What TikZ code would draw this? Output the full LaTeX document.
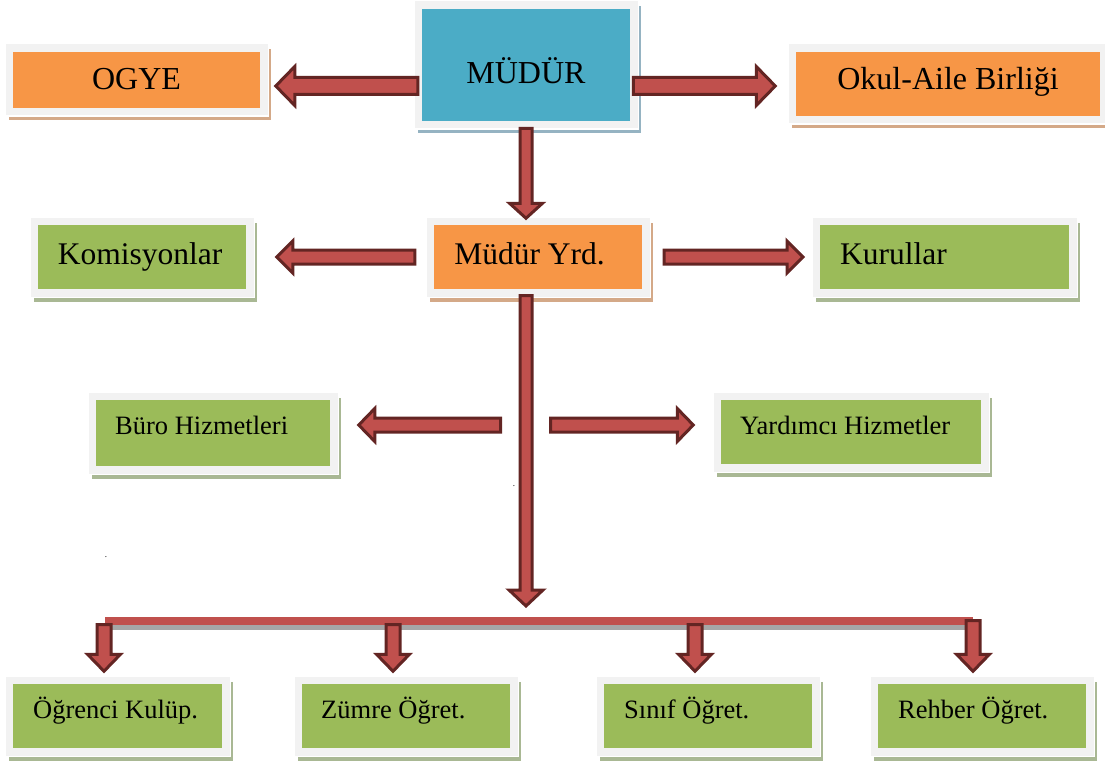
\documentclass[tikz,border=0pt]{standalone}
\usepackage{fontspec}
\setmainfont{Liberation Serif}
\usetikzlibrary{calc}
\definecolor{cOrange}{HTML}{F79646}
\definecolor{cBlue}{HTML}{4BACC6}
\definecolor{cGreen}{HTML}{9BBB59}
\definecolor{cFrame}{HTML}{F2F2F2}
\definecolor{shOrange}{HTML}{D4A988}
\definecolor{shBlue}{HTML}{95B3C2}
\definecolor{shGreen}{HTML}{A9B894}
\definecolor{arRed}{HTML}{C0504D}
\definecolor{arDark}{HTML}{632523}
\definecolor{barShadow}{HTML}{A6A6A6}
\newcommand\blockarrow[5]{%
  \filldraw[barrow] ($(#1)!#3!90:(#2)$) -- ($(#2)!#5!(#1)!#3!-90:(#1)$)
    -- ($(#2)!#5!(#1)!#4!-90:(#1)$) -- (#2)
    -- ($(#2)!#5!(#1)!#4!90:(#1)$) -- ($(#2)!#5!(#1)!#3!90:(#1)$)
    -- ($(#1)!#3!-90:(#2)$) -- cycle;}
\tikzset{
  box/.style 2 args={rectangle, inner sep=0pt, fill=#1, draw=cFrame, line width=7.5pt,
    preaction={draw=#2, fill=#2, line width=7.5pt, transform canvas={shift={(3pt,-5pt)}}},
    preaction={draw=white, fill=white, line width=7.5pt, transform canvas={shift={(1pt,-1.5pt)}}}},
  barrow/.style={fill=arRed, draw=arDark, line width=3pt, line join=miter},
  tbig/.style={inner sep=0pt, font=\fontsize{32}{38}\selectfont},
  tmid/.style={inner sep=0pt, font=\fontsize{31.5}{37}\selectfont},
  tsmall/.style={inner sep=0pt, font=\fontsize{26.5}{32}\selectfont},
  barline/.style={draw=arRed, line width=8pt},
  barshade/.style={draw=barShadow, line width=5pt},
  dotmark/.style={inner sep=0pt, font=\fontsize{9}{10}\selectfont},
}
\begin{document}
\begin{tikzpicture}[x=1pt, y=-1pt]
\useasboundingbox (0,0) rectangle (1105,765);
% boxes
\node[box={cOrange}{shOrange}, minimum width=254.5pt, minimum height=63.5pt] (ogye) at (136.5,80) {};
\node[box={cBlue}{shBlue}, minimum width=215.5pt, minimum height=119.5pt] (mudur) at (526,65) {};
\node[box={cOrange}{shOrange}, minimum width=311.5pt, minimum height=71.5pt] (okul) at (948,84) {};
\node[box={cGreen}{shGreen}, minimum width=215.5pt, minimum height=71.5pt] (komis) at (142,257) {};
\node[box={cOrange}{shOrange}, minimum width=215.5pt, minimum height=71.5pt] (yrd) at (538,257) {};
\node[box={cGreen}{shGreen}, minimum width=256.5pt, minimum height=71.5pt] (kurul) at (944.5,257) {};
\node[box={cGreen}{shGreen}, minimum width=241.5pt, minimum height=73.5pt] (buro) at (213,433) {};
\node[box={cGreen}{shGreen}, minimum width=267.5pt, minimum height=71.5pt] (yard) at (851,432) {};
\node[box={cGreen}{shGreen}, minimum width=216.5pt, minimum height=71.5pt] (ogr) at (117.5,716) {};
\node[box={cGreen}{shGreen}, minimum width=215.5pt, minimum height=71.5pt] (zum) at (406,716) {};
\node[box={cGreen}{shGreen}, minimum width=215.5pt, minimum height=71.5pt] (sinif) at (708,716) {};
\node[box={cGreen}{shGreen}, minimum width=215.5pt, minimum height=71.5pt] (rehber) at (982,716) {};
% texts
\node[tbig, anchor=base] (ogye-t) at (136.5,90) {OGYE};
\node[tbig, anchor=base] (mudur-t) at (526,84) {MÜDÜR};
\node[tbig, anchor=base] (okul-t) at (948,90) {Okul-Aile Birliği};
\node[tmid, anchor=base] (komis-t) at (140,264) {Komisyonlar};
\node[tmid, anchor=base] (yrd-t) at (529.5,264) {Müdür Yrd.};
\node[tmid, anchor=base west] (kurul-t) at (840,264) {Kurullar};
\node[tsmall, anchor=base west] (buro-t) at (115,434) {Büro Hizmetleri};
\node[tsmall, anchor=base west] (yard-t) at (740,434) {Yardımcı Hizmetler};
\node[tsmall, anchor=base west] (ogr-t) at (33,718) {Öğrenci Kulüp.};
\node[tsmall, anchor=base west] (zum-t) at (321,718) {Zümre Öğret.};
\node[tsmall, anchor=base west] (sinif-t) at (624,718) {Sınıf Öğret.};
\node[tsmall, anchor=base west] (rehber-t) at (898,718) {Rehber Öğret.};
% stray dots
\node[dotmark, anchor=base] (dot1) at (514,486) {.};
\node[dotmark, anchor=base] (dot2) at (106,557) {.};
% arrow end points
\coordinate (a1s) at ($(mudur.west)+(3.25,21)$);
\coordinate (a1t) at ($(ogye.east)+(8.25,6)$);
\coordinate (a2s) at ($(mudur.east)+(-4.25,21)$);
\coordinate (a2t) at ($(okul.west)+(-13.25,2)$);
\coordinate (a3s) at (mudur.south);
\coordinate (a3t) at ($(mudur.south |- yrd.north)+(0,0.75)$);
\coordinate (a4s) at ($(yrd.west)+(-11.75,0)$);
\coordinate (a4t) at ($(komis.east)+(23.25,0)$);
\coordinate (a5s) at ($(yrd.east)+(14.5,0)$);
\coordinate (a5t) at ($(kurul.west)+(-9.5,0)$);
\coordinate (bl) at (105,621);
\coordinate (br) at (973,621);
\coordinate (a6s) at ($(mudur.south |- yrd.south)+(0,-1)$);
\coordinate (a6t) at ($(mudur.south |- bl)+(0,-15)$);
\coordinate (a7s) at (500.5,425);
\coordinate (a7t) at ($(buro.east)+(21.25,-8)$);
\coordinate (a8s) at (550.5,425);
\coordinate (a8t) at ($(yard.west)+(-20.25,-7)$);
\coordinate (b1t) at ($(ogr.north)+(-13.5,-5.25)$);
\coordinate (b2t) at ($(zum.north)+(-13,-5.25)$);
\coordinate (b3t) at ($(sinif.north)+(-13,-5.25)$);
\coordinate (b4t) at ($(rehber.north)+(-9,-5.25)$);
\coordinate (b1s) at ($(b1t |- bl)+(0,3.5)$);
\coordinate (b2s) at ($(b2t |- bl)+(0,3.5)$);
\coordinate (b3s) at ($(b3t |- bl)+(0,3.5)$);
\coordinate (b4s) at ($(b4t |- bl)+(0,-0.5)$);
% arrows
\blockarrow{a1s}{a1t}{8.5pt}{19.5pt}{19pt}
\blockarrow{a2s}{a2t}{8.5pt}{19.5pt}{19pt}
\blockarrow{a3s}{a3t}{6pt}{16.5pt}{15pt}
\blockarrow{a4s}{a4t}{7pt}{16pt}{16pt}
\blockarrow{a5s}{a5t}{7pt}{16pt}{16pt}
\blockarrow{a7s}{a7t}{7pt}{16.5pt}{16pt}
\blockarrow{a8s}{a8t}{7pt}{16.5pt}{16pt}
\blockarrow{a6s}{a6t}{6pt}{17pt}{16pt}
% bar
\draw[barshade] ($(bl)+(1,6.5)$) -- ($(br)+(2,6.5)$);
\draw[barline] (bl) -- (br);
\blockarrow{b1s}{b1t}{7pt}{16.5pt}{17pt}
\blockarrow{b2s}{b2t}{7pt}{16.5pt}{17pt}
\blockarrow{b3s}{b3t}{7pt}{16.5pt}{17pt}
\blockarrow{b4s}{b4t}{7pt}{16.5pt}{17pt}
\end{tikzpicture}
\end{document}
